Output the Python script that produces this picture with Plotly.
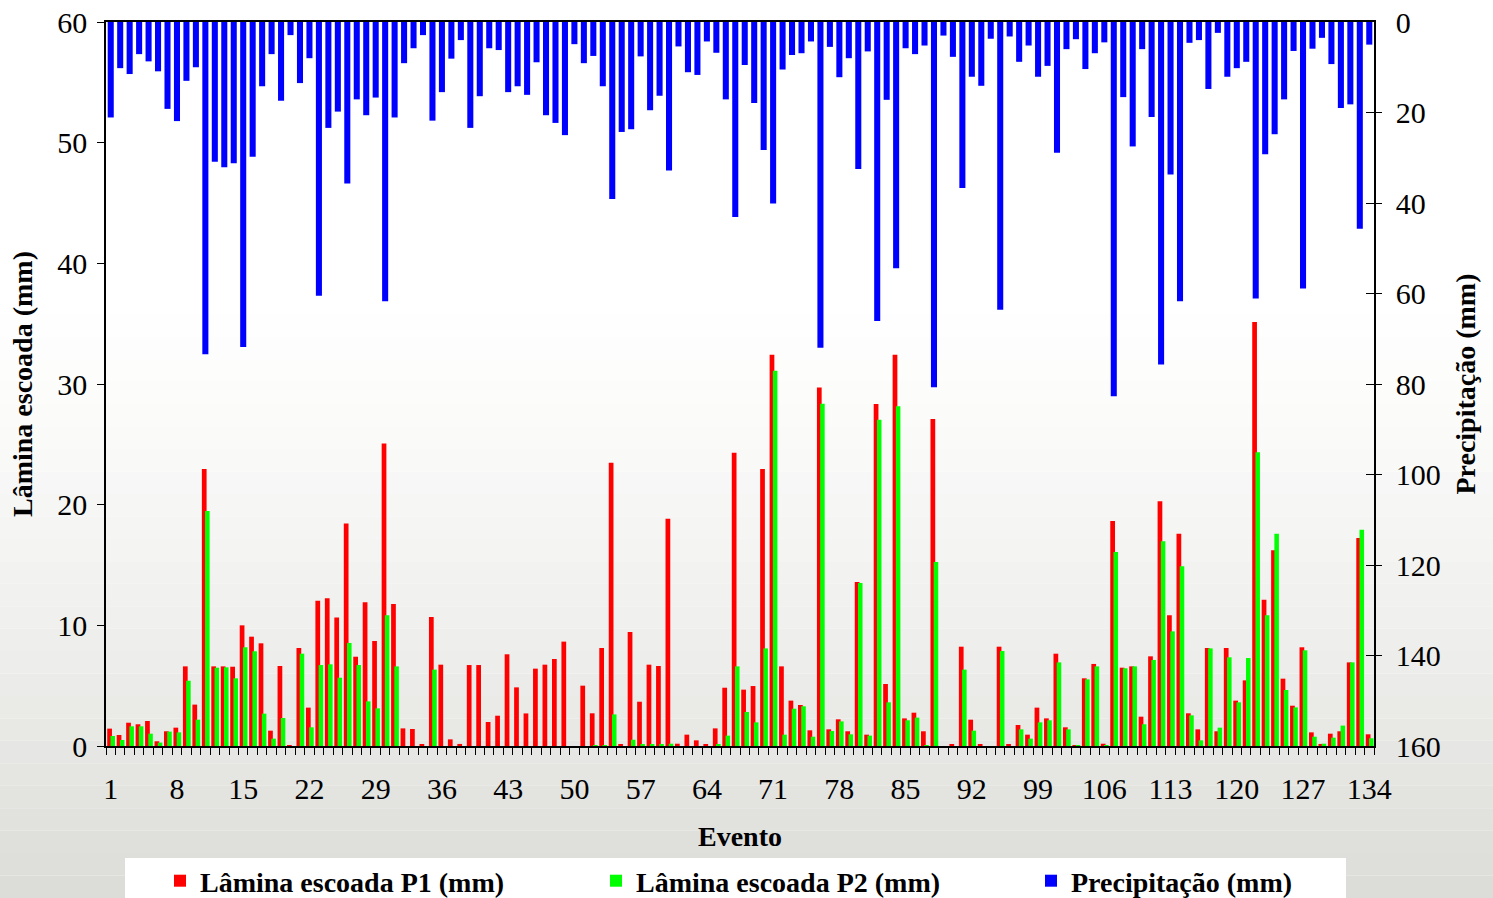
import plotly.graph_objects as go

events = list(range(1, 135))

precip = [21.1, 10.2, 11.5, 7.1, 8.7, 10.9, 19.2, 21.9, 13.0, 10.0,
          73.4, 30.9, 32.1, 31.2, 71.8, 29.8, 14.2, 7.1, 17.4, 2.9,
          13.5, 8.0, 60.5, 23.4, 19.8, 35.7, 17.1, 20.6, 16.7, 61.7,
          21.1, 9.1, 5.8, 2.9, 21.8, 15.5, 8.1, 4.0, 23.4, 16.4,
          5.8, 6.2, 15.5, 14.2, 16.1, 8.9, 20.6, 22.3, 25.0, 4.9,
          9.1, 7.5, 14.2, 39.1, 24.3, 23.7, 7.6, 19.5, 16.3, 32.8,
          5.4, 11.1, 11.7, 4.3, 6.8, 17.1, 43.1, 9.5, 17.9, 28.3,
          40.1, 10.5, 7.3, 6.9, 4.3, 72.0, 5.5, 12.2, 8.0, 32.5,
          6.5, 66.1, 17.2, 54.4, 5.8, 7.1, 5.2, 80.7, 3.0, 7.7,
          36.7, 12.1, 14.1, 3.7, 63.6, 3.2, 8.8, 5.2, 12.1, 9.7,
          28.9, 6.0, 3.8, 10.4, 6.9, 4.5, 82.7, 16.6, 27.5, 6.0,
          21.0, 75.7, 33.7, 61.7, 4.6, 4.0, 14.8, 2.4, 12.1, 10.2,
          8.8, 61.1, 29.2, 24.8, 17.1, 6.4, 58.9, 5.9, 3.5, 9.3,
          19.0, 18.2, 45.7, 5.0]

runoff_p1 = [1.44, 0.91, 1.93, 1.80, 2.07, 0.39, 1.22, 1.52, 6.60, 3.43,
             22.96, 6.60, 6.60, 6.57, 10.00, 9.06, 8.51, 1.27, 6.63, 0.08,
             8.12, 3.18, 12.04, 12.24, 10.64, 18.43, 7.40, 11.91, 8.70, 25.06,
             11.77, 1.46, 1.41, 0.11, 10.69, 6.74, 0.55, 0.17, 6.71, 6.71,
             1.99, 2.51, 7.60, 4.86, 2.70, 6.41, 6.74, 7.21, 8.65, 0.0,
             5.00, 2.71, 8.12, 23.48, 0.14, 9.45, 3.67, 6.74, 6.63, 18.84,
             0.19, 0.94, 0.47, 0.11, 1.46, 4.83, 24.31, 4.67, 4.97, 22.96,
             32.43, 6.60, 3.76, 3.40, 1.30, 29.72, 1.38, 2.21, 1.22, 13.59,
             0.94, 28.34, 5.14, 32.43, 2.29, 2.76, 1.22, 27.10, 0.0, 0.11,
             8.23, 2.18, 0.11, 0.0, 8.23, 0.14, 1.74, 0.94, 3.18, 2.29,
             7.65, 1.55, 0.06, 5.61, 6.80, 0.19, 18.65, 6.49, 6.60, 2.43,
             7.43, 20.28, 10.83, 17.60, 2.71, 1.38, 8.12, 1.22, 8.12, 3.76,
             5.44, 35.14, 12.13, 16.22, 5.58, 3.34, 8.18, 1.13, 0.17, 1.02,
             1.22, 6.93, 17.24, 0.97]

runoff_p2 = [0.83, 0.50, 1.63, 1.63, 1.02, 0.28, 1.19, 1.13, 5.41, 2.18,
             19.48, 6.49, 6.52, 5.61, 8.18, 7.85, 2.68, 0.61, 2.32, 0.0,
             7.65, 1.55, 6.71, 6.77, 5.66, 8.54, 6.71, 3.70, 3.12, 10.83,
             6.60, 0.0, 0.0, 0.0, 6.33, 0.0, 0.0, 0.0, 0.0, 0.0,
             0.0, 0.0, 0.0, 0.0, 0.0, 0.0, 0.0, 0.0, 0.0, 0.0,
             0.0, 0.05, 0.05, 2.62, 0.0, 0.52, 0.10, 0.14, 0.14, 0.19,
             0.0, 0.0, 0.0, 0.0, 0.14, 0.86, 6.60, 2.82, 1.96, 8.09,
             31.10, 0.94, 3.09, 3.29, 0.77, 28.37, 1.24, 2.04, 0.97, 13.51,
             0.86, 27.04, 3.62, 28.15, 2.13, 2.35, 0.05, 15.25, 0.0, 0.0,
             6.33, 1.27, 0.0, 0.0, 7.87, 0.0, 1.38, 0.61, 1.96, 2.13,
             6.93, 1.38, 0.06, 5.52, 6.60, 0.08, 16.08, 6.44, 6.60, 1.80,
             7.13, 16.96, 9.50, 14.89, 2.54, 0.47, 8.09, 1.52, 7.35, 3.62,
             7.29, 24.34, 10.83, 17.60, 4.64, 3.20, 7.93, 0.77, 0.19, 0.69,
             1.69, 6.93, 17.93, 0.64]

x_ticks = list(range(1, 135, 7))
left_ticks = [0, 10, 20, 30, 40, 50, 60]
right_ticks = [0, 20, 40, 60, 80, 100, 120, 140, 160]

SERIF = "Liberation Serif"
W, H = 1493, 898
ML, MR, MT, MB = 106, 119, 22, 152
PH = H - MT - MB


def py(px):
    return (H - MB - px) / PH


def px_x(px):
    return (px - ML) / (W - ML - MR)


fig = go.Figure()
fig.add_trace(go.Bar(x=events, y=runoff_p1, name="Lâmina escoada P1 (mm)",
                     marker=dict(color="#FF0000", line=dict(width=0)),
                     offset=-0.37, width=0.50, yaxis="y", legend="legend"))
fig.add_trace(go.Bar(x=events, y=runoff_p2, name="Lâmina escoada P2 (mm)",
                     marker=dict(color="#00FF00", line=dict(width=0)),
                     offset=-0.03, width=0.48, yaxis="y", legend="legend2"))
fig.add_trace(go.Bar(x=events, y=precip, name="Precipitação (mm)",
                     marker=dict(color="#0000FF", line=dict(width=0)),
                     offset=-0.32, width=0.64, yaxis="y2", legend="legend3"))

# soft grey gradient background (decoration)
shapes = []
nb = 40
for i in range(nb):
    y0 = i * H / nb
    y1 = (i + 1) * H / nb
    t = max(0.0, ((y0 + y1) / 2 - 280) / (H - 280))
    g = int(round(255 - 36 * t ** 1.4))
    b = int(round(255 - 40 * t ** 1.4))
    shapes.append(dict(type="rect", xref="paper", yref="paper",
                       x0=px_x(0), x1=px_x(W), y0=py(y1), y1=py(y0),
                       fillcolor=f"rgb({g},{g},{b})", line=dict(width=0),
                       layer="below"))
# legend box
shapes.append(dict(type="rect", xref="paper", yref="paper",
                   x0=px_x(125), x1=px_x(1346), y0=py(900), y1=py(858),
                   fillcolor="white", line=dict(width=0), layer="above"))

legend_font = dict(family=SERIF, size=28, weight="bold", color="black")


def make_legend(xpx):
    return dict(orientation="h", xref="container", yref="container",
                x=xpx / W, xanchor="left", y=(H - 881) / H, yanchor="middle",
                bgcolor="rgba(0,0,0,0)", font=legend_font,
                itemclick=False, itemdoubleclick=False)


fig.update_layout(
    width=W, height=H,
    margin=dict(l=ML, r=MR, t=MT, b=MB, autoexpand=False),
    paper_bgcolor="white",
    plot_bgcolor="rgba(0,0,0,0)",
    barmode="overlay",
    showlegend=True,
    shapes=shapes,
    font=dict(family=SERIF, color="black", size=30),
    legend=make_legend(160),
    legend2=make_legend(596),
    legend3=make_legend(1031),
    xaxis=dict(range=[0.5, 134.5], tickmode="array", tickvals=x_ticks,
               ticktext=[str(v) for v in x_ticks], ticks="",
               ticklabelstandoff=15,
               minor=dict(tickmode="array",
                          tickvals=[v + 0.5 for v in range(0, 135)],
                          ticks="outside", ticklen=7, tickcolor="black",
                          tickwidth=1),
               showline=True, linecolor="black", linewidth=1.5, mirror=True,
               showgrid=False, zeroline=False,
               tickfont=dict(family=SERIF, size=30, color="black"),
               title=dict(text="Evento", standoff=23,
                          font=dict(family=SERIF, size=28, weight="bold",
                                    color="black"))),
    yaxis=dict(range=[0, 60], tickmode="array", tickvals=left_ticks,
               ticks="outside", ticklen=7, tickcolor="black",
               ticklabelstandoff=4,
               showline=True, linecolor="black", linewidth=1.5,
               showgrid=False, zeroline=False,
               tickfont=dict(family=SERIF, size=30, color="black"),
               title=dict(text="Lâmina escoada (mm)", standoff=16,
                          font=dict(family=SERIF, size=28, weight="bold",
                                    color="black"))),
    yaxis2=dict(range=[160, 0], overlaying="y", side="right",
                tickmode="array", tickvals=right_ticks,
                ticks="inside", ticklen=8, tickcolor="black",
                ticklabelstandoff=14,
                minor=dict(tickmode="array",
                           tickvals=[v + 0.01 for v in right_ticks],
                           ticks="outside", ticklen=6, tickcolor="black",
                           tickwidth=1),
                showline=True, linecolor="black", linewidth=1.5,
                showgrid=False, zeroline=False,
                tickfont=dict(family=SERIF, size=30, color="black"),
                title=dict(text="Precipitação (mm)", standoff=16,
                           font=dict(family=SERIF, size=28, weight="bold",
                                     color="black"))),
)

fig.write_html("out.html")
